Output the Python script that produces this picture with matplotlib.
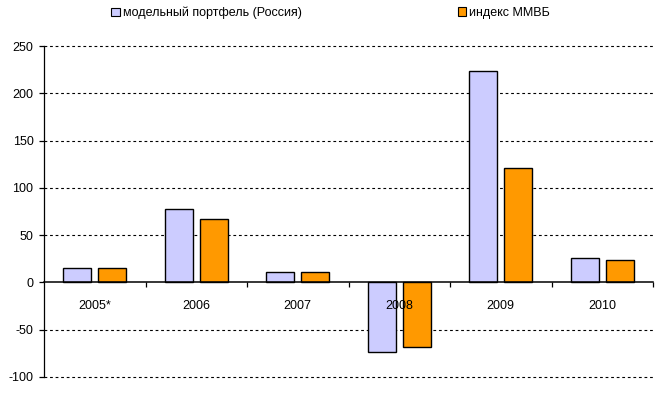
import numpy as np
import matplotlib
matplotlib.use('Agg')
import matplotlib.pyplot as plt
from matplotlib.patches import Patch

plt.rcParams['font.family'] = ['Liberation Sans', 'DejaVu Sans']

years = ['2005*', '2006', '2007', '2008', '2009', '2010']
portfolio = [15, 78, 11, -74, 224, 25.5]
micex = [15, 67, 11, -68, 121, 23.5]
series_names = ['модельный портфель (Россия)', 'индекс ММВБ']
y_ticks = [-100, -50, 0, 50, 100, 150, 200, 250]

col_port = '#CCCCFF'
col_micex = '#FF9900'

fig = plt.figure(figsize=(6.65, 3.97), dpi=100)
ax = fig.add_axes([0.0662, 0.0504, 0.9158, 0.8336])

x = np.arange(len(years))
w = 0.28
off = 0.1725
ax.bar(x - off, portfolio, w, color=col_port, edgecolor='black', linewidth=1.0, zorder=2)
ax.bar(x + off, micex, w, color=col_micex, edgecolor='black', linewidth=1.0, zorder=2)

# dashed grid lines (zero line is the axis itself)
for t in y_ticks:
    if t != 0:
        ax.axhline(t, color='black', lw=0.8, ls=(0, (2.5, 2.5)), zorder=0.5, clip_on=False)

ax.set_xlim(-0.5, len(years) - 0.5)
ax.set_ylim(-100, 250)
ax.set_yticks(y_ticks)
ax.set_yticklabels([str(t) for t in y_ticks])

ax.spines['top'].set_visible(False)
ax.spines['right'].set_visible(False)
ax.spines['bottom'].set_position(('data', 0))
ax.spines['left'].set_linewidth(0.9)
ax.spines['bottom'].set_linewidth(1.1)

ax.set_xticks(x)
ax.set_xticklabels(years)
ax.set_xticks(np.arange(0.5, len(years)), minor=True)
ax.tick_params(axis='x', which='major', length=0, pad=13, labelsize=9)
ax.tick_params(axis='x', which='minor', length=3.6, width=0.9, direction='out')
ax.tick_params(axis='y', length=3.6, width=0.9, pad=4, labelsize=9)
ax.set_axisbelow(False)

# legend: two separate entries spread across the top
for name, col, xpos in [(series_names[0], col_port, 0.167), (series_names[1], col_micex, 0.688)]:
    h = Patch(facecolor=col, edgecolor='black', linewidth=0.8)
    lg = fig.legend([h], [name], loc='center left', bbox_to_anchor=(xpos, 0.967),
                    frameon=False, fontsize=9, handlelength=0.7, handleheight=0.7,
                    handletextpad=0.25, borderpad=0, borderaxespad=0)

fig.savefig('out.png', dpi=100)
